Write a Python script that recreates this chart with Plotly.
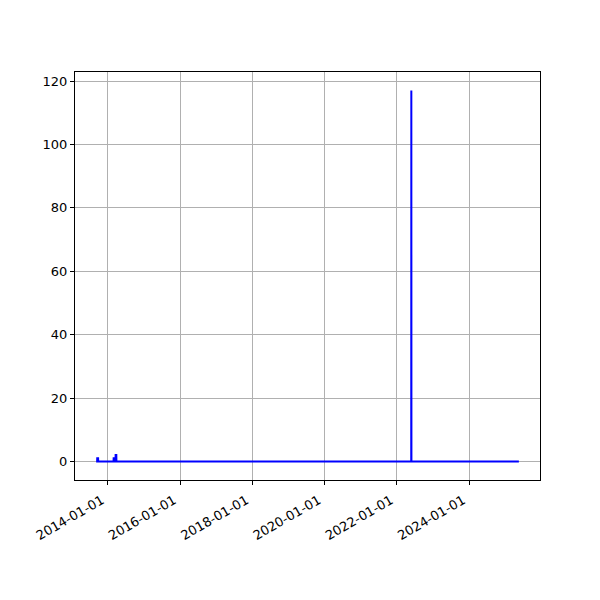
import pandas as pd
import plotly.graph_objects as go

dates = ["2013-09-05", "2013-09-15", "2013-09-16", "2013-09-25", "2013-09-26",
         "2014-02-28", "2014-03-01", "2014-03-10", "2014-03-11", "2014-03-20",
         "2014-03-21", "2014-03-28", "2014-03-29",
         "2022-05-26", "2022-05-27", "2022-05-28", "2025-05-18"]
values = [0, 0, 1, 1, 0,
          0, 1, 1, 0, 0,
          2, 2, 0,
          0, 117, 0, 0]
ytick_vals = [0, 20, 40, 60, 80, 100, 120]
xtick_dates = ["2014-01-01", "2016-01-01", "2018-01-01", "2020-01-01", "2022-01-01", "2024-01-01"]

d = pd.to_datetime(dates)
span = d.max() - d.min()
xr = [d.min() - span * 0.05, d.max() + span * 0.05]
vmin, vmax = min(values), max(values)
yr = [vmin - (vmax - vmin) * 0.05, vmax + (vmax - vmin) * 0.05]

fig = go.Figure(go.Scatter(x=d, y=values, mode="lines",
                           line=dict(color="#0000ff", width=2)))

axis_common = dict(showline=True, linecolor="black", linewidth=1, mirror=True,
                   ticks="outside", ticklen=4, tickcolor="black", tickwidth=1,
                   showgrid=True, gridcolor="#b0b0b0", gridwidth=1, zeroline=False,
                   tickfont=dict(family="DejaVu Sans", size=13, color="black"))

fig.update_layout(
    width=600, height=600,
    margin=dict(l=67, r=68, t=64, b=128),
    paper_bgcolor="white", plot_bgcolor="white",
    showlegend=False,
    xaxis=dict(range=xr, tickvals=pd.to_datetime(xtick_dates), tickformat="%Y-%m-%d",
               tickangle=-30, ticklabelshift=-6, ticklabelstandoff=3, **axis_common),
    yaxis=dict(range=yr, tickvals=ytick_vals, **axis_common),
)

fig.write_html("out.html")
